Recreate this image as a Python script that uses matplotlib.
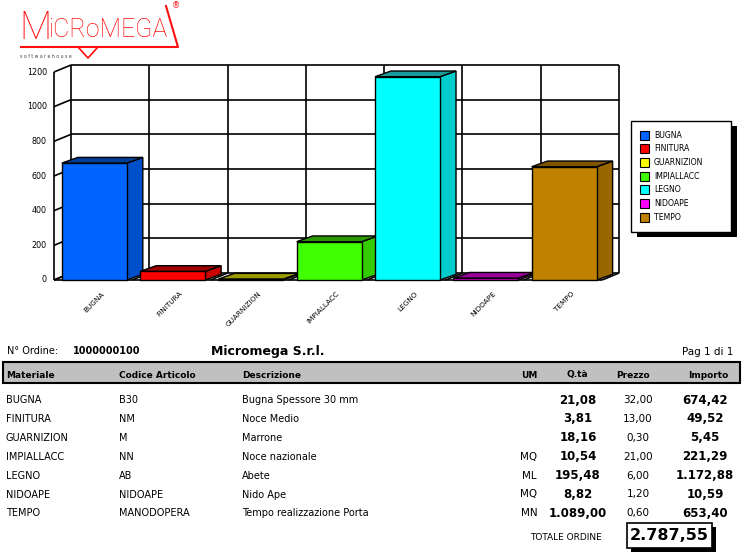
import matplotlib
matplotlib.use("Agg")
import matplotlib.pyplot as plt
from matplotlib.patches import Polygon, Rectangle

plt.rcParams['font.family'] = ['DejaVu Sans']

# ---- data ----
materiale = ["BUGNA", "FINITURA", "GUARNIZION", "IMPIALLACC", "LEGNO", "NIDOAPE", "TEMPO"]
codice = ["B30", "NM", "M", "NN", "AB", "NIDOAPE", "MANODOPERA"]
descrizione = ["Bugna Spessore 30 mm", "Noce Medio", "Marrone", "Noce nazionale",
               "Abete", "Nido Ape", "Tempo realizzazione Porta"]
um = ["", "", "", "MQ", "ML", "MQ", "MN"]
qta = ["21,08", "3,81", "18,16", "10,54", "195,48", "8,82", "1.089,00"]
prezzo = ["32,00", "13,00", "0,30", "21,00", "6,00", "1,20", "0,60"]
importo = [674.42, 49.52, 5.45, 221.29, 1172.88, 10.59, 653.40]
importo_txt = ["674,42", "49,52", "5,45", "221,29", "1.172,88", "10,59", "653,40"]
totale = "2.787,55"
yticks = [0, 200, 400, 600, 800, 1000, 1200]

front_col = ["#0064FF", "#FF0000", "#FFFF00", "#40FF00", "#00FFFF", "#FF00FF", "#C08000"]
side_col = ["#0050CC", "#C80000", "#A0A000", "#33CC00", "#00CCCC", "#CC00CC", "#996600"]
top_col = ["#003F99", "#A00000", "#999900", "#2A9900", "#1A9A9A", "#990099", "#7F5500"]

W, H = 747, 556
fig = plt.figure(figsize=(W / 100, H / 100), dpi=100)

# page axes in pixel coords (text, table, logo)
page = fig.add_axes([0, 0, 1, 1])
page.set_xlim(0, W); page.set_ylim(H, 0); page.axis('off')

# ---- chart axes ----
PXC = 78.3          # px per category
PXV = 0.17333       # px per value unit
X0, Y0 = 54, 280    # front-left origin in px
L, R, T, B = 40, 640, 55, 300
ax = fig.add_axes([L / W, (H - B) / H, (R - L) / W, (B - T) / H])
ax.set_xlim((L - X0) / PXC, (R - X0) / PXC)
ax.set_ylim((Y0 - B) / PXV, (Y0 - T) / PXV)
ax.axis('off')

n = len(materiale)
dxw, dyw = 17 / PXC, 7 / PXV      # back wall offset
dxb, dyb = 16 / PXC, 5.7 / PXV    # bar depth
ymax = yticks[-1]
lk = dict(color='black', lw=1.2, solid_capstyle='butt', zorder=1)

# back wall grid + floor
for v in yticks:
    ax.plot([dxw, n + dxw], [v + dyw, v + dyw], **lk)
    ax.plot([0, dxw], [v, v + dyw], **lk)
    ax.text(-0.09, v, str(v), ha='right', va='center', fontsize=5.8)
for i in range(n + 1):
    ax.plot([i + dxw, i + dxw], [dyw, ymax + dyw], **lk)
    ax.plot([i, i + dxw], [0, dyw], **lk)
ax.plot([0, 0], [0, ymax], **lk)
ax.plot([0, n], [0, 0], **lk)

# bars
bw, boff = 0.83, 0.1
for i, h in enumerate(importo):
    x0 = i + boff
    ec = dict(edgecolor='black', lw=1.0, joinstyle='miter', zorder=3)
    ax.add_patch(Polygon([(x0 + bw, 0), (x0 + bw + dxb, dyb), (x0 + bw + dxb, h + dyb), (x0 + bw, h)],
                         facecolor=side_col[i], **ec))
    ax.add_patch(Polygon([(x0, h), (x0 + bw, h), (x0 + bw + dxb, h + dyb), (x0 + dxb, h + dyb)],
                         facecolor=top_col[i], **ec))
    ax.add_patch(Rectangle((x0, 0), bw, h, facecolor=front_col[i], **ec))
    ax.text(x0 + bw / 2 + 0.09, -60, materiale[i], rotation=45, rotation_mode='anchor',
            ha='right', va='top', fontsize=5.2)

# ---- legend (manual, with hard shadow) ----
lx0, ly0, lx1, ly1 = 631, 121, 731, 232
page.add_patch(Rectangle((lx0 + 6, ly0 + 5), lx1 - lx0, ly1 - ly0, facecolor='black', lw=0))
page.add_patch(Rectangle((lx0, ly0), lx1 - lx0, ly1 - ly0, facecolor='white', edgecolor='black', lw=1))
for i, name in enumerate(materiale):
    yy = 135 + 13.7 * i
    page.add_patch(Rectangle((640, yy - 4.5), 9, 9, facecolor=front_col[i], edgecolor='black', lw=0.8))
    page.text(654, yy, name, ha='left', va='center', fontsize=5.6)

# ---- logo ----
red = '#FF1010'
page.text(19, 47, "M", color=red, fontsize=27, va='bottom', ha='left',
          family='Roboto', fontweight='light')
page.text(48, 37, "iCRoMEGA", color=red, fontsize=18, va='baseline', ha='left',
          family='Roboto', fontweight='light')
page.plot([21, 178, 166], [47, 47, 6], color=red, lw=1.5)
page.plot([78, 88, 98], [47, 58, 47], color=red, lw=1.2)
page.text(172, 6, "®", color=red, fontsize=6, ha='left', va='center')
page.text(20, 56, "s o f t w a r e h o u s e", color='#444444', fontsize=3.3, ha='left', va='center')

# ---- order header ----
page.text(7, 351, "N° Ordine:", fontsize=7, ha='left', va='center')
page.text(73, 351, "1000000100", fontsize=7, fontweight='bold', ha='left', va='center')
page.text(211, 351, "Micromega S.r.l.", fontsize=9, fontweight='bold', ha='left', va='center')
page.text(733, 352, "Pag 1 di 1", fontsize=7.5, ha='right', va='center')

page.add_patch(Rectangle((3, 362), 737, 21, facecolor='#C0C0C0', edgecolor='black', lw=1.5))
hy = 375
hk = dict(fontsize=6.5, fontweight='bold', va='center')
page.text(6, hy, "Materiale", ha='left', **hk)
page.text(119, hy, "Codice Articolo", ha='left', **hk)
page.text(242, hy, "Descrizione", ha='left', **hk)
page.text(529, hy, "UM", ha='center', **hk)
page.text(577, hy, "Q.tà", ha='center', **hk)
page.text(633, hy, "Prezzo", ha='center', **hk)
page.text(708, hy, "Importo", ha='center', **hk)

for i in range(n):
    yy = 400 + 18.9 * i
    page.text(6, yy, materiale[i], fontsize=7, ha='left', va='center')
    page.text(119, yy, codice[i], fontsize=7, ha='left', va='center')
    page.text(242, yy, descrizione[i], fontsize=7, ha='left', va='center')
    page.text(529, yy, um[i], fontsize=7.5, ha='center', va='center')
    page.text(578, yy, qta[i], fontsize=8.5, fontweight='bold', ha='center', va='center')
    page.text(638, yy, prezzo[i], fontsize=7.5, ha='center', va='center')
    page.text(705, yy, importo_txt[i], fontsize=8.5, fontweight='bold', ha='center', va='center')

page.text(566, 537, "TOTALE ORDINE", fontsize=6.5, ha='center', va='center')
page.add_patch(Rectangle((631, 527), 85, 25, facecolor='black', lw=0))
page.add_patch(Rectangle((627, 523), 85, 25, facecolor='white', edgecolor='black', lw=1.2))
page.text(669.5, 536, totale, fontsize=11.5, fontweight='bold', ha='center', va='center')

fig.savefig("out.png", dpi=100)
